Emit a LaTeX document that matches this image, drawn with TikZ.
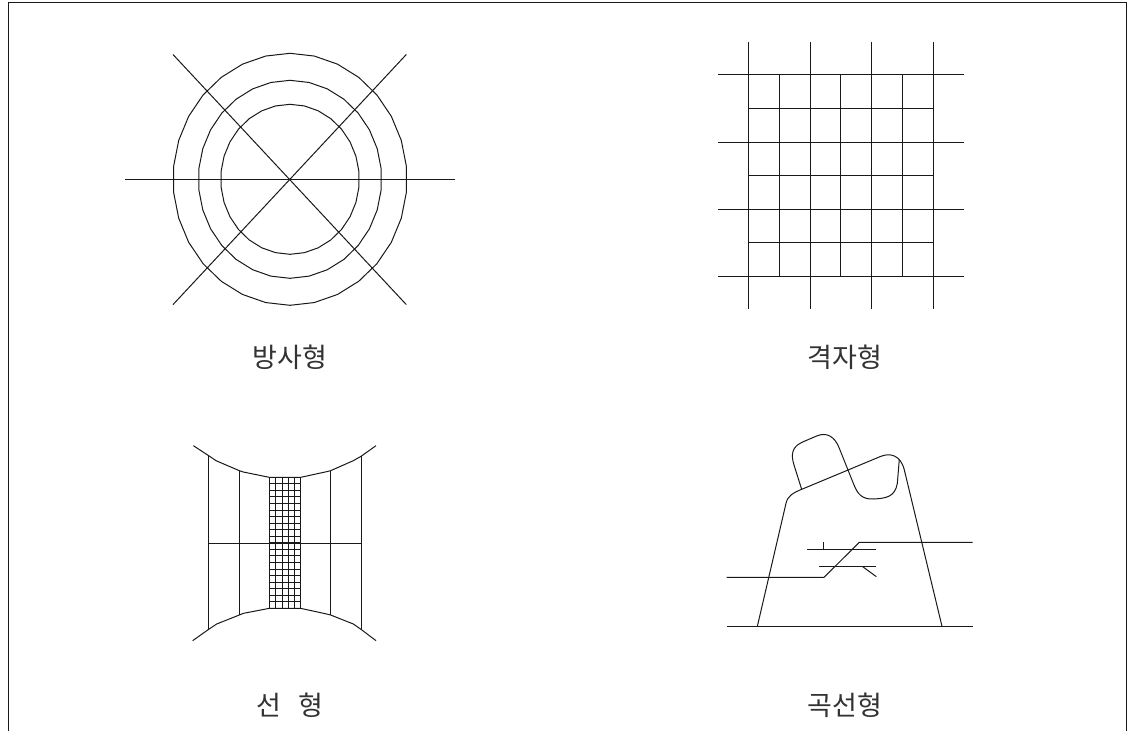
\documentclass[tikz,border=0pt]{standalone}
\usepackage{fontspec}
\newfontfamily\krfont{Noto Sans CJK KR}
\tikzset{
  ink/.style={draw=black!90,line width=1pt,line join=round},
  framing/.style={draw=black!90,line width=1.1pt},
  caption/.style={font=\krfont\fontsize{27}{30}\selectfont,text=black!80,inner sep=0pt,anchor=center}
}
\begin{document}
\begin{tikzpicture}[x=1pt,y=-1pt]
\useasboundingbox (0,0) rectangle (1129,731);
\fill[white] (0,0) rectangle (1129,731);
% frame (open at the bottom)
\draw[framing] (8.3,731) -- (8.3,2.8) -- (1126.3,2.8) -- (1126.3,731);
% radial
\foreach \rx/\ry in {117/126,91.7/99,69.3/75}{
  \draw[ink] plot[sharp plot,samples=31,domain=90:450] ({290+\rx*cos(\x)},{179.3-\ry*sin(\x)}) -- cycle;
}
\draw[ink] (125,179.3) -- (454.5,179.3);
\draw[ink] (173,54.5) -- (406.3,304.6);
\draw[ink] (406.3,54.5) -- (173,304.6);
% grid
\foreach \x in {748.3,810,871.7,933.2} \draw[ink] (\x,41.7) -- (\x,309.3);
\foreach \x in {779.2,840.8,902.3} \draw[ink] (\x,74.7) -- (\x,276.3);
\foreach \y in {74.7,142,209.2,276.3} \draw[ink] (718,\y) -- (964,\y);
\foreach \y in {108.5,175.6,242.8} \draw[ink] (748.3,\y) -- (933.2,\y);
% linear
\begin{scope}[shift={(170,430)},x=0.33333pt,y=-0.33333pt]
\draw[ink] (70,47) -- (116,77) -- (138,92) -- (208,122) -- (220,126) -- (298,142) -- (392,142) -- (470,125) -- (482,122) -- (550,92) -- (573,79) -- (618,47);
\draw[ink] (68,632) -- (116,598) -- (140,582) -- (208,555) -- (220,550) -- (298,535) -- (392,535) -- (470,552) -- (482,555) -- (550,582) -- (573,598) -- (618,632);
\foreach \x/\a/\b in {116/77/598,208/122/555,482/122/555,573/79/598} \draw[ink] (\x,\a) -- (\x,\b);
\draw[ink] (116,339) -- (573,339);
\foreach \x in {298,317,336,355,373,392} \draw[ink] (\x,142) -- (\x,535);
\foreach \i in {1,...,19} \draw[ink] (298,{142+\i*19.65}) -- (392,{142+\i*19.65});
\end{scope}
% curved
\begin{scope}[shift={(710,420)},x=0.33333pt,y=-0.33333pt]
\draw[ink] (50,619) -- (788,619);
\draw[ink] (142,619) -- (228,250) .. controls (233,228) and (248,219) .. (275,208) -- (510,110) .. controls (540,97) and (572,105) .. (583,150) -- (696,619);
\draw[ink] (275,208) -- (252,135) .. controls (240,97) and (250,78) .. (280,65) -- (320,48) .. controls (350,35) and (375,50) .. (388,85) -- (430,190) .. controls (443,225) and (458,238) .. (490,237) .. controls (530,235) and (555,230) .. (562,190) -- (568,118);
\draw[ink] (50,472) -- (342,472) -- (448,367) -- (788,367);
\draw[ink] (292,389) -- (497,389);
\draw[ink] (339,367) -- (339,389);
\draw[ink] (328,440) -- (497,440);
\draw[ink] (458,440) -- (499,470);
\end{scope}
% captions
\node[caption] (radial) at (290,357.5) {방사형};
\node[caption] (grid) at (845,357.5) {격자형};
\node[caption] (linear) at (290,705.5) {선\hspace{17pt}형};
\node[caption] (curved) at (845,705.5) {곡선형};
\end{tikzpicture}
\end{document}
